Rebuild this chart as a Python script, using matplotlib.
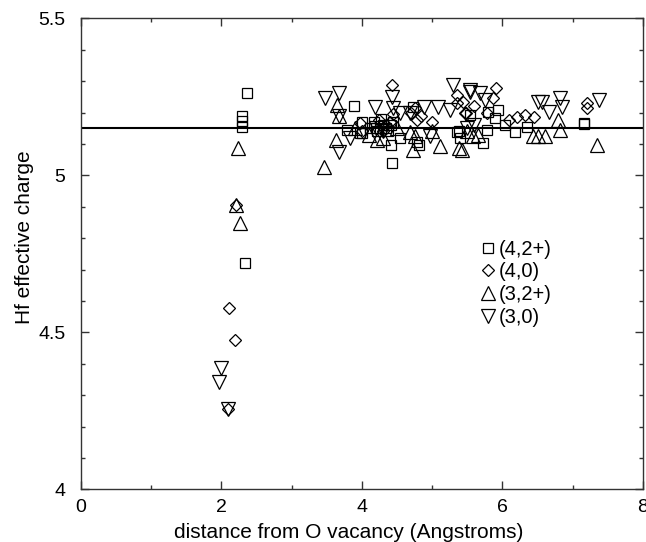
import matplotlib
matplotlib.use('Agg')
import matplotlib.pyplot as plt
from matplotlib.ticker import MultipleLocator, FuncFormatter

# (4,2+) squares
sq_x = [2.36, 2.29, 2.29, 2.29, 2.34, 3.89, 3.79, 3.98, 4.00, 4.01, 4.12, 4.18, 4.22, 4.27,
        4.30, 4.35, 4.38, 4.42, 4.45, 4.20, 4.41, 4.43, 4.55, 4.73, 4.78, 4.81, 5.35, 5.40,
        5.38, 5.54, 5.73, 5.78, 5.80, 5.94, 5.90, 6.04, 6.18, 6.35, 7.16, 7.16]
sq_y = [5.262, 5.190, 5.172, 5.155, 4.720, 5.220, 5.145, 5.134, 5.134, 5.171, 5.150, 5.170,
        5.140, 5.180, 5.160, 5.150, 5.140, 5.160, 5.170, 5.150, 5.097, 5.039, 5.118, 5.219,
        5.108, 5.097, 5.139, 5.118, 5.140, 5.193, 5.103, 5.145, 5.203, 5.209, 5.182, 5.161,
        5.139, 5.155, 5.168, 5.164]

# (4,0) diamonds
di_x = [2.21, 2.11, 2.20, 2.10, 3.98, 4.43, 4.25, 4.35, 4.30, 4.40, 4.45, 4.76, 4.78, 4.70,
        4.85, 5.35, 5.35, 5.47, 5.44, 5.49, 5.91, 5.87, 5.78, 6.09, 6.21, 6.33, 6.45, 7.20,
        7.20, 5.00, 5.60, 4.00]
di_y = [4.905, 4.578, 4.476, 4.255, 5.166, 5.288, 5.175, 5.160, 5.140, 5.170, 5.195, 5.214,
        5.177, 5.200, 5.190, 5.256, 5.230, 5.198, 5.235, 5.198, 5.278, 5.246, 5.198, 5.177,
        5.187, 5.193, 5.187, 5.230, 5.214, 5.170, 5.220, 5.140]

# (3,2+) up triangles
tu_x = [2.24, 2.21, 2.26, 3.46, 3.65, 3.67, 3.64, 3.90, 4.21, 4.30, 4.69, 4.76, 4.73, 5.12,
        5.38, 5.42, 5.59, 5.65, 6.44, 6.51, 6.61, 6.80, 6.82, 7.35, 4.50, 5.00, 5.50, 4.10]
tu_y = [5.087, 4.905, 4.848, 5.028, 5.225, 5.190, 5.113, 5.150, 5.113, 5.120, 5.139, 5.124,
        5.081, 5.094, 5.087, 5.081, 5.124, 5.130, 5.124, 5.124, 5.124, 5.177, 5.145, 5.097,
        5.150, 5.140, 5.140, 5.130]

# (3,0) down triangles
td_x = [2.00, 1.97, 2.10, 3.48, 3.67, 3.67, 3.83, 3.68, 4.43, 4.19, 4.45, 4.69, 4.89, 5.09,
        4.97, 5.30, 5.54, 5.26, 5.54, 5.68, 5.75, 6.51, 6.56, 6.66, 6.82, 6.85, 7.37, 4.30,
        4.20, 5.60, 5.50, 4.55]
td_y = [4.386, 4.343, 4.255, 5.246, 5.262, 5.190, 5.118, 5.076, 5.251, 5.219, 5.214, 5.198,
        5.219, 5.219, 5.124, 5.288, 5.267, 5.209, 5.272, 5.262, 5.240, 5.235, 5.235, 5.203,
        5.246, 5.219, 5.240, 5.140, 5.150, 5.160, 5.150, 5.200]

mean_charge = 5.15

plt.rcParams['font.family'] = ['Liberation Sans', 'DejaVu Sans']

fig = plt.figure(figsize=(6.46, 5.42), dpi=100)
ax = fig.add_axes([0.125, 0.097, 0.87, 0.869])

style = dict(linestyle='none', markerfacecolor='none', markeredgecolor='black',
             markeredgewidth=0.9)
ax.plot(sq_x, sq_y, marker='s', markersize=7.8, label='(4,2+)', **style)
ax.plot(di_x, di_y, marker='D', markersize=6.6, label='(4,0)', **style)
ax.plot(tu_x, tu_y, marker='^', markersize=9.4, label='(3,2+)', **style)
ax.plot(td_x, td_y, marker='v', markersize=9.4, label='(3,0)', **style)

ax.axhline(mean_charge, color='black', linewidth=1.5)

ax.set_xlim(0, 8)
ax.set_ylim(4, 5.5)
ax.xaxis.set_major_locator(MultipleLocator(2))
ax.xaxis.set_minor_locator(MultipleLocator(1))
ax.yaxis.set_major_locator(MultipleLocator(0.5))
ax.yaxis.set_minor_locator(MultipleLocator(0.1))
ax.xaxis.set_major_formatter(FuncFormatter(lambda v, p: f'{v:g}'))
ax.yaxis.set_major_formatter(FuncFormatter(lambda v, p: f'{v:g}'))
ax.tick_params(which='both', direction='in', top=True, right=True, labelsize=14,
               width=1.0, color='#333333')
ax.tick_params(which='major', length=6)
ax.tick_params(axis='x', which='major', pad=7)
ax.tick_params(axis='y', which='major', pad=11)
ax.tick_params(which='minor', length=3)
for sp in ax.spines.values():
    sp.set_linewidth(1.0)
    sp.set_color('#333333')

ax.set_xlabel('distance from O vacancy (Angstroms)', fontsize=15)
ax.set_ylabel('Hf effective charge', fontsize=15)
ax.xaxis.set_label_coords(0.476, -0.072)
ax.yaxis.set_label_coords(-0.083, 0.535)

ax.legend(loc='upper left', bbox_to_anchor=(0.71, 0.53), frameon=False, fontsize=14.5,
          handlelength=0.8, handletextpad=0.15, labelspacing=0.18, borderpad=0,
          borderaxespad=0, numpoints=1)

fig.savefig('out.png', dpi=100)
